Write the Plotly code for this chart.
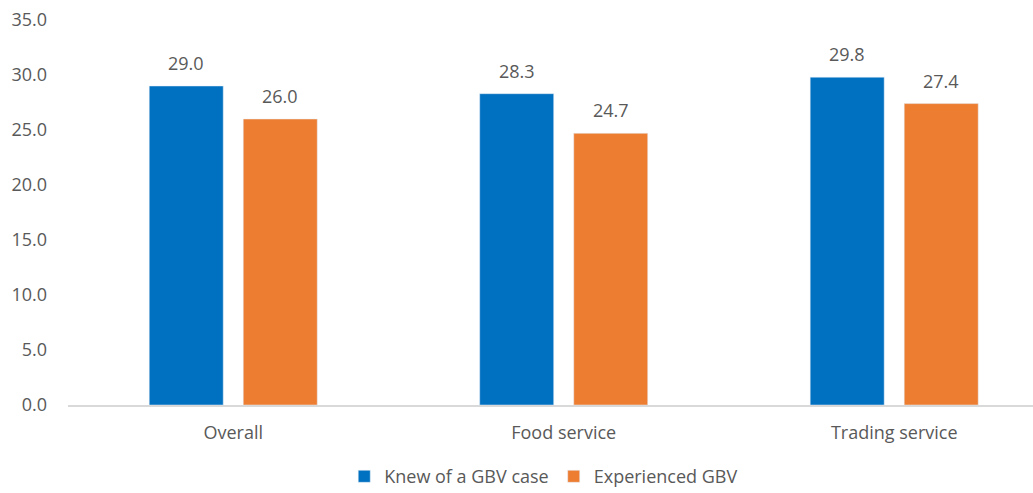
import plotly.graph_objects as go

# data
categories = ['Overall', 'Food service', 'Trading service']
knew_gbv = [29.0, 28.3, 29.8]
experienced_gbv = [26.0, 24.7, 27.4]
y_ticks = [0, 5, 10, 15, 20, 25, 30, 35]

FONT = 'Open Sans, Noto Sans, sans-serif'
GREY = '#595959'

fig = go.Figure()
fig.add_trace(go.Bar(x=categories, y=knew_gbv, name='Knew of a GBV case',
                     marker_color='#0070C0'))
fig.add_trace(go.Bar(x=categories, y=experienced_gbv, name='Experienced GBV',
                     marker_color='#ED7D31'))

# value labels above bars (a bit higher than plotly's default "outside" text)
for vals, shift in [(knew_gbv, -47), (experienced_gbv, 47)]:
    for cat, v in zip(categories, vals):
        fig.add_annotation(x=cat, y=v, text=f'{v:.1f}', showarrow=False,
                           xshift=shift, yanchor='bottom', yshift=9,
                           font=dict(family=FONT, size=18, color=GREY))

fig.update_layout(
    width=1033, height=493,
    margin=dict(l=68, r=0, t=20, b=88, autoexpand=False),
    plot_bgcolor='white', paper_bgcolor='white',
    barmode='group', bargap=0.431, bargroupgap=0.213,
    font=dict(family=FONT, size=18, color=GREY),
    showlegend=True,
    legend=dict(orientation='h', x=0.493, xanchor='center', y=-0.186, yanchor='middle',
                font=dict(size=18, color=GREY), itemwidth=30),
    xaxis=dict(range=[-0.5, 2.42], showgrid=False, showline=True,
               linecolor='#D9D9D9', linewidth=2, ticks='', ticklabelstandoff=10,
               tickfont=dict(size=18)),
    yaxis=dict(range=[0, 35], tickvals=y_ticks,
               ticktext=[f'{v:.1f}' for v in y_ticks],
               showgrid=False, zeroline=False, showline=False,
               ticklabeloverflow='allow',
               ticklabelstandoff=20, tickfont=dict(size=18)),
)

# drop the default 8px body margin so the figure fills the window exactly
fig.write_html('out.html', config={'displayModeBar': False},
               post_script="document.body.style.margin='0';")
